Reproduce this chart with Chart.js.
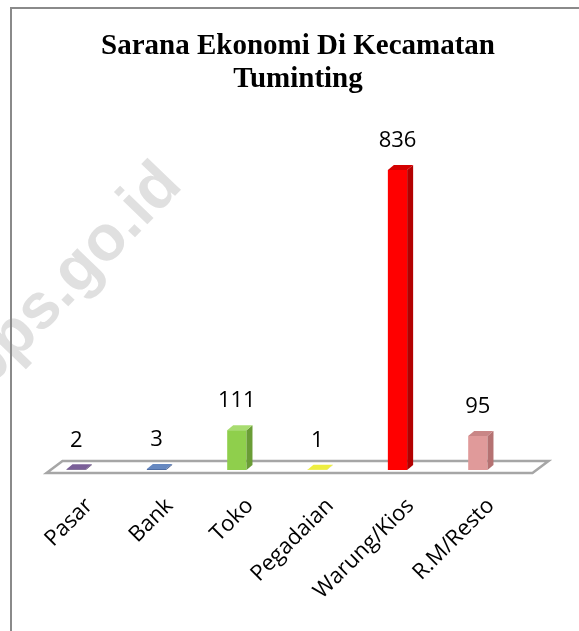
<!DOCTYPE html>
<html>
<head>
<meta charset="utf-8">
<script src="https://cdn.jsdelivr.net/npm/chart.js@4.4.0/dist/chart.umd.min.js"></script>
<style>
html, body { margin: 0; padding: 0; background: #fff; overflow: hidden; }
</style>
</head>
<body>
<canvas id="chart" width="579" height="631"></canvas>
<script>
// data
const categories = ["Pasar", "Bank", "Toko", "Pegadaian", "Warung/Kios", "R.M/Resto"];
const jumlah = [2, 3, 111, 1, 836, 95];

// bar colours: front, side, top
const frontColors = ["#60497a", "#4f6ea5", "#8fcf4c", "#dcdc10", "#ff0000", "#e09a9a"];
const sideColors = ["#45345c", "#3a5282", "#6a9d36", "#a9a900", "#b30000", "#b57272"];
const topColors = ["#7a5f98", "#6688c0", "#a8dc70", "#eeee40", "#d40000", "#c98686"];

const DX = 6, DY = -5;

// watermark + outer frame
const frame = {
    id: "frame",
    beforeDraw(chart) {
        const ctx = chart.ctx;
        ctx.save();
        ctx.translate(85, 289);
        ctx.rotate(-46 * Math.PI / 180);
        ctx.font = "bold 64px 'Liberation Sans', Arial, sans-serif";
        ctx.fillStyle = "#e0e0e0";
        ctx.textAlign = "center";
        ctx.textBaseline = "alphabetic";
        ctx.fillText("bps.go.id", 0, 0);
        ctx.restore();

        ctx.save();
        ctx.strokeStyle = "#8a8a8a";
        ctx.lineWidth = 2;
        ctx.strokeRect(11, 8, 700, 700);
        ctx.restore();
    }
};

// 3d floor under the bars
const floor = {
    id: "floor",
    beforeDatasetsDraw(chart) {
        const { ctx, chartArea } = chart;
        const base = chart.scales.y.getPixelForValue(0);
        const fl = chartArea.left + 10.5, fr = chartArea.right + 14.5;
        const front = base + 3, back = base - 9;
        ctx.save();
        ctx.beginPath();
        ctx.moveTo(fl, front);
        ctx.lineTo(fr, front);
        ctx.lineTo(fr + 16, back);
        ctx.lineTo(fl + 16, back);
        ctx.closePath();
        ctx.fillStyle = "#fff";
        ctx.fill();
        ctx.strokeStyle = "#a6a6a6";
        ctx.lineWidth = 2.5;
        ctx.stroke();
        ctx.restore();
    }
};

// side + top faces and value labels
const bars3d = {
    id: "bars3d",
    afterDatasetsDraw(chart) {
        const ctx = chart.ctx;
        const values = chart.data.datasets[0].data;
        chart.getDatasetMeta(0).data.forEach((bar, i) => {
            const { x, y, base, width } = bar.getProps(["x", "y", "base", "width"], true);
            const l = x - width / 2, r = x + width / 2;
            ctx.save();
            ctx.beginPath();
            ctx.moveTo(r, y);
            ctx.lineTo(r + DX, y + DY);
            ctx.lineTo(r + DX, base + DY);
            ctx.lineTo(r, base);
            ctx.closePath();
            ctx.fillStyle = sideColors[i];
            ctx.fill();

            ctx.beginPath();
            ctx.moveTo(l, y);
            ctx.lineTo(l + DX, y + DY);
            ctx.lineTo(r + DX, y + DY);
            ctx.lineTo(r, y);
            ctx.closePath();
            ctx.fillStyle = topColors[i];
            ctx.fill();

            ctx.font = "22px 'Open Sans', sans-serif";
            ctx.fillStyle = "#000";
            ctx.textAlign = "center";
            ctx.textBaseline = "middle";
            ctx.fillText(String(values[i]), x, y - 29);
            ctx.restore();
        });
    }
};

// invisible side axes only reserve room so the title centres like the original
const hiddenAxis = (pos, w) => ({
    type: "linear",
    position: pos,
    display: true,
    grid: { display: false },
    border: { display: false },
    ticks: { display: false },
    afterFit(scale) { scale.width = w; }
});

new Chart(document.getElementById("chart").getContext("2d"), {
    type: "bar",
    data: {
        labels: categories,
        datasets: [
            {
                data: jumlah,
                backgroundColor: frontColors,
                borderWidth: 0,
                barPercentage: 0.3,
                categoryPercentage: 0.8
            }
        ]
    },
    options: {
        responsive: false,
        animation: false,
        layout: { padding: { left: 17, right: 0, top: 0, bottom: 0 } },
        plugins: {
            legend: { display: false },
            tooltip: { enabled: false },
            title: {
                display: true,
                text: ["Sarana Ekonomi Di Kecamatan", "Tuminting"],
                color: "#000",
                font: { family: "'Liberation Serif', 'Times New Roman', serif", size: 29, weight: "bold", lineHeight: 1.14 },
                padding: { top: 30, bottom: 24 }
            }
        },
        scales: {
            x: {
                grid: { display: false },
                border: { display: false },
                ticks: {
                    color: "#000",
                    font: { family: "'Open Sans', sans-serif", size: 22 },
                    minRotation: 45,
                    maxRotation: 45,
                    autoSkip: false,
                    padding: 15,
                    labelOffset: 13
                },
                afterFit(scale) { scale.height = 161; }
            },
            y: Object.assign(hiddenAxis("left", 19), { min: 0, max: 975 }),
            yRight: hiddenAxis("right", 61)
        }
    },
    plugins: [frame, floor, bars3d]
});
</script>
</body>
</html>
